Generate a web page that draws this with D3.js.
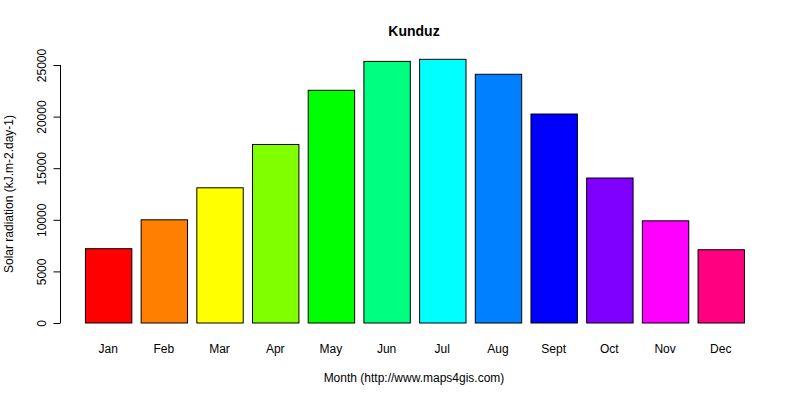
<!DOCTYPE html>
<html>
<head>
<meta charset="utf-8">
<script src="https://cdn.jsdelivr.net/npm/d3@7"></script>
<style>
  body { margin: 0; background: #fff; }
  text { font-family: "Liberation Sans", Arial, sans-serif; }
</style>
</head>
<body>
<script>
const months = ["Jan", "Feb", "Mar", "Apr", "May", "Jun", "Jul", "Aug", "Sept", "Oct", "Nov", "Dec"];
const radiation = [7200, 10000, 13100, 17300, 22550, 25350, 25550, 24100, 20250, 14050, 9900, 7100];
const colors = ["#FF0000", "#FF8000", "#FFFF00", "#80FF00", "#00FF00", "#00FF80",
  "#00FFFF", "#0080FF", "#0000FF", "#8000FF", "#FF00FF", "#FF0080"];
const yTicks = [0, 5000, 10000, 15000, 20000, 25000];

const width = 800, height = 400;

const svg = d3.select("body").append("svg")
  .attr("width", width).attr("height", height);

const x = d3.scaleBand()
  .domain(months)
  .range([80.3, 748.6])
  .paddingInner(0.2 / 1.2)
  .paddingOuter(0.2 / 1.2 / 2);

const y = d3.scaleLinear().domain([0, 25000]).range([323, 65]);

// bars
svg.append("g").selectAll("rect")
  .data(radiation)
  .join("rect")
  .attr("x", (d, i) => x(months[i]) + 0.5)
  .attr("y", (d) => y(d))
  .attr("width", x.bandwidth())
  .attr("height", (d) => y(0) - y(d))
  .attr("fill", (d, i) => colors[i])
  .attr("stroke", "#000")
  .attr("stroke-width", 1);

// y axis
const yAxis = svg.append("g")
  .attr("transform", "translate(60.5,0)")
  .call(d3.axisLeft(y).tickValues(yTicks).tickSize(7).tickFormat(d3.format("d")));
yAxis.select(".domain").attr("d", `M0,${y(0)}V${y(25000)}`);
yAxis.selectAll("text")
  .attr("font-size", 12)
  .attr("font-family", "Liberation Sans, Arial, sans-serif")
  .attr("transform", "rotate(-90)")
  .attr("x", 0)
  .attr("dx", 0)
  .attr("y", -15)
  .attr("dy", 0)
  .attr("text-anchor", "middle");

// month labels
svg.append("g").selectAll("text")
  .data(months)
  .join("text")
  .attr("x", (d) => x(d) + x.bandwidth() / 2)
  .attr("y", 353)
  .attr("text-anchor", "middle")
  .attr("font-size", 12)
  .text((d) => d);

// titles
svg.append("text")
  .attr("x", 414).attr("y", 36)
  .attr("text-anchor", "middle")
  .attr("font-size", 14).attr("font-weight", "bold")
  .text("Kunduz");

svg.append("text")
  .attr("x", 414).attr("y", 382)
  .attr("text-anchor", "middle")
  .attr("font-size", 12)
  .text("Month (http://www.maps4gis.com)");

svg.append("text")
  .attr("transform", "translate(13,194) rotate(-90)")
  .attr("text-anchor", "middle")
  .attr("font-size", 12)
  .text("Solar radiation (kJ.m-2.day-1)");
</script>
</body>
</html>
